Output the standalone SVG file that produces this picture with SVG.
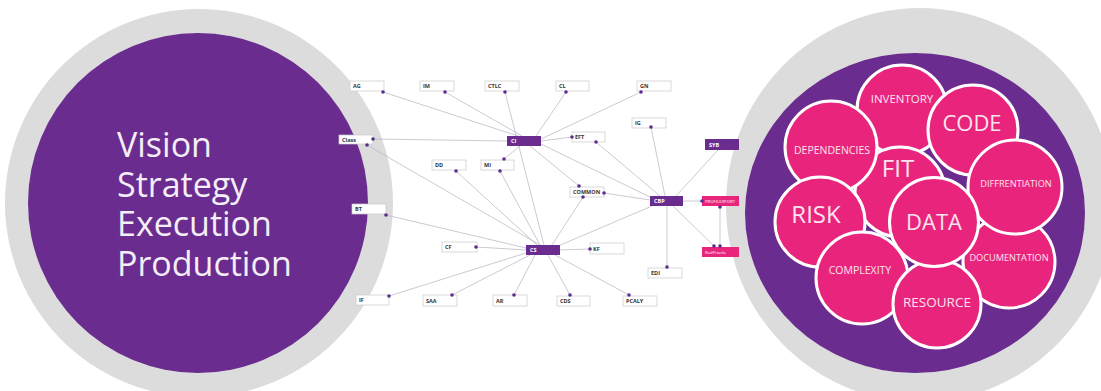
<svg xmlns="http://www.w3.org/2000/svg" width="1101" height="391" viewBox="0 0 1101 391">
<style>
.bg{fill:#ffffff}
.ring{fill:#dcdcdc}
.disk{fill:#6a2c8e}
.big{font-family:"Open Sans","Liberation Sans",sans-serif;fill:#f4eef8;font-size:34px}
.pk circle{fill:#e9247c;stroke:#ffffff;stroke-width:3}
.pt{font-family:"Open Sans","Liberation Sans",sans-serif;fill:#fbe4ee;text-anchor:middle}
.box{fill:#ffffff;stroke:#c9c9c9;stroke-width:0.7}
.pbox{fill:#6a2c8e}
.kbox{fill:#e9247c}
.lb{font-family:"Open Sans","Liberation Sans",sans-serif;font-weight:bold;font-size:5.5px;fill:#333333}
.wl{font-family:"Open Sans","Liberation Sans",sans-serif;font-weight:bold;font-size:5.5px;fill:#ffffff}
.wk{font-family:"Open Sans","Liberation Sans",sans-serif;font-size:4.3px;fill:#ffffff}
.dot{fill:#5b2d8e}
#connectors line{stroke:#b8b0c0;stroke-width:0.7}
</style>
<rect class="bg" x="0" y="0" width="1101" height="391"/>

<!-- left circle -->
<g id="left-circle">
<circle class="ring" cx="199" cy="203" r="194"/>
<circle class="disk" cx="198" cy="203" r="170"/>
<text class="big" x="117" y="157"><tspan x="117" y="157">Vision</tspan><tspan x="117" y="196.5">Strategy</tspan><tspan x="117" y="236">Execution</tspan><tspan x="117" y="276">Production</tspan></text>
</g>

<!-- right circle -->
<g id="right-circle">
<ellipse class="ring" cx="920" cy="205" rx="194" ry="197"/>
<ellipse class="disk" cx="915" cy="213" rx="170" ry="160"/>
</g>

<g class="pk">
<g id="inventory"><circle cx="902" cy="110" r="45"/><text class="pt" x="902" y="103" font-size="11.5">INVENTORY</text></g>
<g id="fit"><circle cx="900" cy="192" r="45"/><text class="pt" x="898" y="177" font-size="24">FIT</text></g>
<g id="dependencies"><circle cx="831" cy="147" r="46"/><text class="pt" x="832" y="154" font-size="10.5">DEPENDENCIES</text></g>
<g id="risk"><circle cx="820" cy="222" r="45"/><text class="pt" x="816" y="223" font-size="24">RISK</text></g>
<g id="code"><circle cx="973" cy="130" r="45"/><text class="pt" x="972" y="131" font-size="22">CODE</text></g>
<g id="documentation"><circle cx="1009" cy="262" r="46"/><text class="pt" x="1009" y="261" font-size="9.2">DOCUMENTATION</text></g>
<g id="diffrentiation"><circle cx="1015" cy="187" r="47"/><text class="pt" x="1016" y="187" font-size="9.2">DIFFRENTIATION</text></g>
<g id="complexity"><circle cx="862" cy="278" r="46"/><text class="pt" x="860" y="274" font-size="10.5">COMPLEXITY</text></g>
<g id="resource"><circle cx="937" cy="304" r="44"/><text class="pt" x="937" y="307" font-size="13.5">RESOURCE</text></g>
<g id="data"><circle cx="934" cy="222" r="44.5"/><text class="pt" x="934" y="230" font-size="22">DATA</text></g>
</g>

<!-- connectors -->
<g id="connectors">
<line x1="383" y1="92" x2="518" y2="136"/>
<line x1="445" y1="92" x2="522" y2="136"/>
<line x1="505" y1="92" x2="544" y2="245"/>
<line x1="566" y1="92" x2="536" y2="136"/>
<line x1="641" y1="92" x2="541" y2="139"/>
<line x1="373" y1="139" x2="507" y2="141"/>
<line x1="367" y1="145" x2="540" y2="245"/>
<line x1="456" y1="171" x2="537" y2="245"/>
<line x1="500" y1="171" x2="540" y2="245"/>
<line x1="504" y1="159" x2="520" y2="146"/>
<line x1="541" y1="141" x2="572" y2="137"/>
<line x1="530" y1="146" x2="579" y2="186"/>
<line x1="541" y1="144" x2="652" y2="198"/>
<line x1="596" y1="142" x2="660" y2="196"/>
<line x1="651" y1="127" x2="665" y2="196"/>
<line x1="718" y1="150" x2="676" y2="196"/>
<line x1="604" y1="193" x2="650" y2="200"/>
<line x1="583" y1="197" x2="552" y2="245"/>
<line x1="558" y1="246" x2="652" y2="206"/>
<line x1="683" y1="201" x2="702" y2="201"/>
<line x1="673" y1="206" x2="714" y2="246"/>
<line x1="667" y1="206" x2="667" y2="267"/>
<line x1="720" y1="207" x2="720" y2="246"/>
<line x1="560" y1="250" x2="590" y2="249"/>
<line x1="548" y1="255" x2="570" y2="295"/>
<line x1="555" y1="255" x2="629" y2="295"/>
<line x1="535" y1="255" x2="514" y2="295"/>
<line x1="530" y1="255" x2="452" y2="295"/>
<line x1="526" y1="253" x2="389" y2="296"/>
<line x1="526" y1="250" x2="476" y2="247"/>
<line x1="526" y1="248" x2="386" y2="215"/>
</g>

<!-- nodes -->
<g id="AG"><rect class="box" x="350" y="81" width="34" height="10"/><text class="lb" x="353" y="88">AG</text><circle class="dot" cx="383" cy="92" r="1.8"/></g>
<g id="IM"><rect class="box" x="420" y="81" width="34" height="10"/><text class="lb" x="423" y="88">IM</text><circle class="dot" cx="445" cy="92" r="1.8"/></g>
<g id="CTLC"><rect class="box" x="485" y="81" width="34" height="10"/><text class="lb" x="488" y="88">CTLC</text><circle class="dot" cx="505" cy="92" r="1.8"/></g>
<g id="CL"><rect class="box" x="556" y="81" width="33" height="10"/><text class="lb" x="559" y="88">CL</text><circle class="dot" cx="566" cy="92" r="1.8"/></g>
<g id="GN"><rect class="box" x="637" y="81" width="34" height="10"/><text class="lb" x="640" y="88">GN</text><circle class="dot" cx="641" cy="92" r="1.8"/></g>
<g id="Class"><rect class="box" x="339" y="135" width="34" height="9"/><text class="lb" x="342" y="141.5">Class</text><circle class="dot" cx="373" cy="139" r="1.8"/><circle class="dot" cx="367" cy="145" r="1.8"/></g>
<g id="CI"><rect class="pbox" x="507" y="136" width="34" height="10"/><text class="wl" x="511" y="143">CI</text></g>
<g id="DD"><rect class="box" x="432" y="160" width="34" height="10"/><text class="lb" x="435" y="167">DD</text><circle class="dot" cx="456" cy="171" r="1.8"/></g>
<g id="MI"><rect class="box" x="481" y="160" width="33" height="10"/><text class="lb" x="484" y="167">MI</text><circle class="dot" cx="504" cy="159" r="1.8"/><circle class="dot" cx="500" cy="171" r="1.8"/></g>
<g id="EFT"><rect class="box" x="572" y="132" width="33" height="10"/><text class="lb" x="575" y="139">EFT</text><circle class="dot" cx="572" cy="137" r="1.8"/><circle class="dot" cx="596" cy="142" r="1.8"/></g>
<g id="IG"><rect class="box" x="632" y="118" width="34" height="10"/><text class="lb" x="635" y="125">IG</text><circle class="dot" cx="651" cy="127" r="1.8"/></g>
<g id="SYB"><rect class="pbox" x="705" y="139" width="34" height="11"/><text class="wl" x="709" y="146.5">SYB</text></g>
<g id="COMMON"><rect class="box" x="570" y="187" width="34" height="10"/><text class="lb" x="573" y="194">COMMON</text><circle class="dot" cx="579" cy="186" r="1.8"/><circle class="dot" cx="604" cy="193" r="1.8"/><circle class="dot" cx="583" cy="197" r="1.8"/></g>
<g id="CBP"><rect class="pbox" x="650" y="196" width="33" height="10"/><text class="wl" x="654" y="203">CBP</text></g>
<g id="PROFILEXPORT"><rect class="kbox" x="702" y="196" width="37" height="10"/><text class="wk" x="705" y="202.5">PROFILEXPORT</text><circle class="dot" cx="702" cy="201" r="1.8"/><circle class="dot" cx="720" cy="207" r="1.8"/></g>
<g id="RedPriarla"><rect class="kbox" x="702" y="247" width="37" height="10"/><text class="wk" x="705" y="253.5">RedPriarla</text><circle class="dot" cx="714" cy="246" r="1.8"/><circle class="dot" cx="720" cy="246" r="1.8"/></g>
<g id="BT"><rect class="box" x="352" y="204" width="34" height="10"/><text class="lb" x="355" y="211">BT</text><circle class="dot" cx="386" cy="215" r="1.8"/></g>
<g id="CF"><rect class="box" x="442" y="242" width="35" height="10"/><text class="lb" x="445" y="249">CF</text><circle class="dot" cx="476" cy="247" r="1.8"/></g>
<g id="CS"><rect class="pbox" x="526" y="245" width="34" height="10"/><text class="wl" x="530" y="252">CS</text></g>
<g id="KF"><rect class="box" x="590" y="243" width="34" height="11"/><text class="lb" x="593" y="251">KF</text><circle class="dot" cx="590" cy="249" r="1.8"/></g>
<g id="EDI"><rect class="box" x="648" y="268" width="34" height="10"/><text class="lb" x="651" y="275">EDI</text><circle class="dot" cx="667" cy="267" r="1.8"/></g>
<g id="IF"><rect class="box" x="356" y="295" width="33" height="10"/><text class="lb" x="359" y="302">IF</text><circle class="dot" cx="389" cy="296" r="1.8"/></g>
<g id="SAA"><rect class="box" x="423" y="295" width="34" height="11"/><text class="lb" x="426" y="302.5">SAA</text><circle class="dot" cx="452" cy="295" r="1.8"/></g>
<g id="AR"><rect class="box" x="493" y="295" width="34" height="11"/><text class="lb" x="496" y="302.5">AR</text><circle class="dot" cx="514" cy="295" r="1.8"/></g>
<g id="CDS"><rect class="box" x="557" y="296" width="33" height="10"/><text class="lb" x="560" y="303">CDS</text><circle class="dot" cx="570" cy="295" r="1.8"/></g>
<g id="PCALY"><rect class="box" x="623" y="296" width="34" height="10"/><text class="lb" x="626" y="303">PCALY</text><circle class="dot" cx="629" cy="295" r="1.8"/></g>
</svg>
